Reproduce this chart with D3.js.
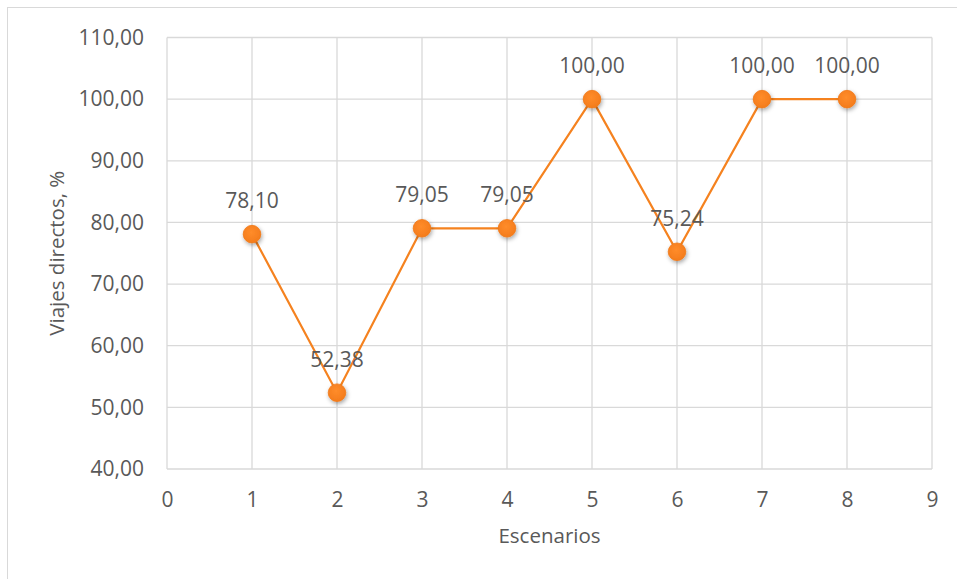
<!DOCTYPE html>
<html>
<head>
<meta charset="utf-8">
<script src="https://cdn.jsdelivr.net/npm/d3@7"></script>
<style>
  html, body { margin: 0; padding: 0; background: #fff; }
  svg { display: block; }
  text { font-family: "Open Sans", sans-serif; fill: #595959; }
</style>
</head>
<body>
<svg id="chart" width="957" height="579"></svg>
<script>
const scenarios = [1, 2, 3, 4, 5, 6, 7, 8];
const directTrips = [78.10, 52.38, 79.05, 79.05, 100.00, 75.24, 100.00, 100.00];
const xTicks = [0, 1, 2, 3, 4, 5, 6, 7, 8, 9];
const yTicks = [40, 50, 60, 70, 80, 90, 100, 110];
const xTitle = "Escenarios";
const yTitle = "Viajes directos, %";

(function () {
const fmt = v => v.toFixed(2).replace(".", ",");

const svg = d3.select("#chart");
const pL = 167, pR = 932, pT = 37.5, pB = 469;

// outer border
svg.append("rect")
  .attr("x", 7.5).attr("y", 7.5)
  .attr("width", 1000).attr("height", 1000)
  .attr("fill", "#fff").attr("stroke", "#d9d9d9").attr("stroke-width", 1);

const x = d3.scaleLinear().domain([0, 9]).range([pL, pR]);
const y = d3.scaleLinear().domain([40, 110]).range([pB, pT]);

const defs = svg.append("defs");
const f = defs.append("filter").attr("id", "shadow")
  .attr("x", "-50%").attr("y", "-50%").attr("width", "200%").attr("height", "200%");
f.append("feDropShadow").attr("dx", 1).attr("dy", 2).attr("stdDeviation", 2)
  .attr("flood-color", "#000").attr("flood-opacity", 0.35);

const grad = defs.append("radialGradient").attr("id", "mk").attr("cx", "45%").attr("cy", "40%").attr("r", "60%");
grad.append("stop").attr("offset", "0%").attr("stop-color", "#ff8c2a");
grad.append("stop").attr("offset", "100%").attr("stop-color", "#f47c1c");

// gridlines
const grid = svg.append("g");
grid.selectAll("line.h").data(yTicks).join("line").attr("class", "h")
  .attr("x1", pL).attr("x2", pR)
  .attr("y1", d => y(d)).attr("y2", d => y(d))
  .attr("stroke", "#d9d9d9").attr("stroke-width", d => d === 40 ? 1.6 : 1.3);
grid.selectAll("line.v").data(xTicks).join("line").attr("class", "v")
  .attr("y1", pT).attr("y2", pB)
  .attr("x1", d => x(d)).attr("x2", d => x(d))
  .attr("stroke", "#d9d9d9").attr("stroke-width", 1.3);

// axes (labels only)
const yAxis = svg.append("g").attr("transform", `translate(${pL},0)`)
  .call(d3.axisLeft(y).tickValues(yTicks).tickFormat(fmt).tickSize(0).tickPadding(23));
yAxis.select(".domain").remove();
yAxis.selectAll("text").style("font-size", "21px").attr("fill", "#595959")
  .style("font-family", "'Open Sans', sans-serif");

const xAxis = svg.append("g").attr("transform", `translate(0,${pB})`)
  .call(d3.axisBottom(x).tickValues(xTicks).tickFormat(d3.format("d")).tickSize(0).tickPadding(23));
xAxis.select(".domain").remove();
xAxis.selectAll("text").style("font-size", "21px").attr("fill", "#595959")
  .style("font-family", "'Open Sans', sans-serif");

// axis titles
svg.append("text")
  .attr("x", (pL + pR) / 2).attr("y", 543)
  .attr("text-anchor", "middle").style("font-size", "20.5px")
  .text(xTitle);
svg.append("text")
  .attr("transform", `translate(64,${(pT + pB) / 2}) rotate(-90)`)
  .attr("text-anchor", "middle").style("font-size", "20.5px")
  .text(yTitle);

// line
const pts = scenarios.map((s, i) => [s, directTrips[i]]);
svg.append("path")
  .datum(pts)
  .attr("fill", "none").attr("stroke", "#f5821f").attr("stroke-width", 2.2)
  .attr("d", d3.line().x(d => x(d[0])).y(d => y(d[1])));

// markers
svg.append("g").selectAll("circle").data(pts).join("circle")
  .attr("cx", d => x(d[0])).attr("cy", d => y(d[1])).attr("r", 8.8)
  .attr("fill", "url(#mk)").attr("stroke", "#f07818").attr("stroke-width", 0.8)
  .attr("filter", "url(#shadow)");

// data labels
svg.append("g").selectAll("text").data(pts).join("text")
  .attr("x", d => x(d[0])).attr("y", d => y(d[1]) - 26)
  .attr("text-anchor", "middle").style("font-size", "21px")
  .text(d => fmt(d[1]));
})();
</script>
</body>
</html>
